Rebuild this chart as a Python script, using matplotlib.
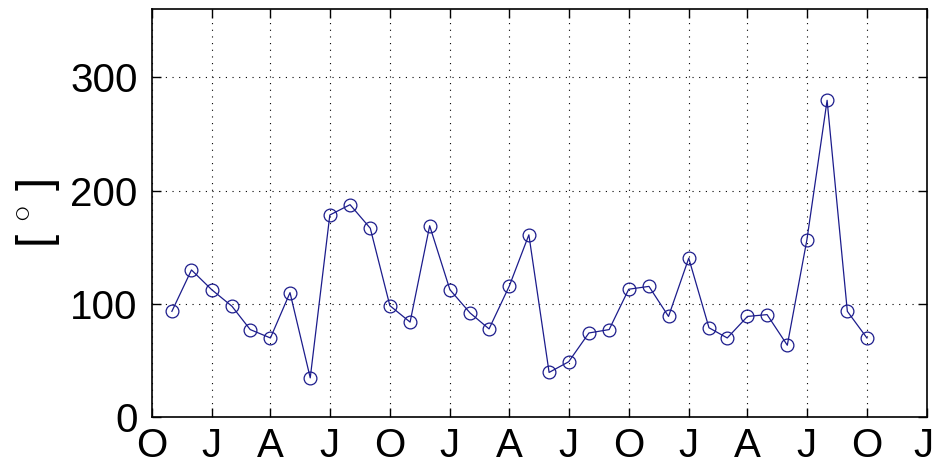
import datetime as dt
import matplotlib
matplotlib.use("Agg")
import matplotlib.pyplot as plt
import matplotlib.transforms as mtransforms

# ---- data ----
start_year, start_month = 2002, 11   # first sample: 1 Nov
values = [93.5, 130, 112.6, 98, 77.4, 70, 110, 34.8, 178.5, 187.6, 166.8, 98.5,
          84, 169, 112.6, 92, 78, 115.8, 161, 39.6, 49, 74.4, 77.4, 113,
          115.5, 89, 140.4, 79, 70, 89, 90.6, 63.6, 156.5, 279.7, 93.5, 70]
tick_labels = ['O', 'J', 'A', 'J', 'O', 'J', 'A', 'J', 'O', 'J', 'A', 'J', 'O', 'J']
y_ticks = [0, 100, 200, 300]
y_label = r'[ $^{\circ}$ ]'


def month_add(y, m, k):
    t = (m - 1) + k
    return dt.date(y + t // 12, t % 12 + 1, 1)


dates = [month_add(start_year, start_month, i) for i in range(len(values))]
tick_dates = [month_add(start_year, start_month - 1, 3 * i) for i in range(len(tick_labels))]

plt.rcParams['font.family'] = ['Liberation Sans', 'DejaVu Sans']
plt.rcParams['mathtext.fontset'] = 'custom'
plt.rcParams['mathtext.rm'] = 'Liberation Sans'

fig = plt.figure(figsize=(9.35, 4.65), dpi=100)
ax = fig.add_axes([0.1622, 0.1026, 0.9914 - 0.1622, 0.98 - 0.1026])

ax.plot(dates, values, '-', color='#1c1c8c', lw=0.9, marker='o', ms=9.2,
        mfc='none', mec='#1c1c8c', mew=0.9)

ax.set_xlim(tick_dates[0], tick_dates[-1])
ax.set_ylim(0, 360)
ax.set_xticks(tick_dates)
ax.set_xticklabels(tick_labels)
ax.set_yticks(y_ticks)
ax.set_yticklabels([str(v) for v in y_ticks])

ax.grid(True, color='black', linestyle=(0, (1, 5)), lw=0.8)
ax.tick_params(direction='in', length=6.5, width=1, top=True, right=True,
               labelsize=29, colors='black')
ax.tick_params(axis='x', pad=7)
ax.tick_params(axis='y', pad=10)
for s in ax.spines.values():
    s.set_linewidth(1.2)
    s.set_color('black')

# keep the last month letter inside the canvas
last = ax.get_xticklabels()[-1]
last.set_transform(last.get_transform() +
                   mtransforms.ScaledTranslation(-4 / 100, 0, fig.dpi_scale_trans))

ax.set_ylabel(y_label, fontsize=34, labelpad=6)

fig.savefig('out.png', dpi=100, facecolor='white')
